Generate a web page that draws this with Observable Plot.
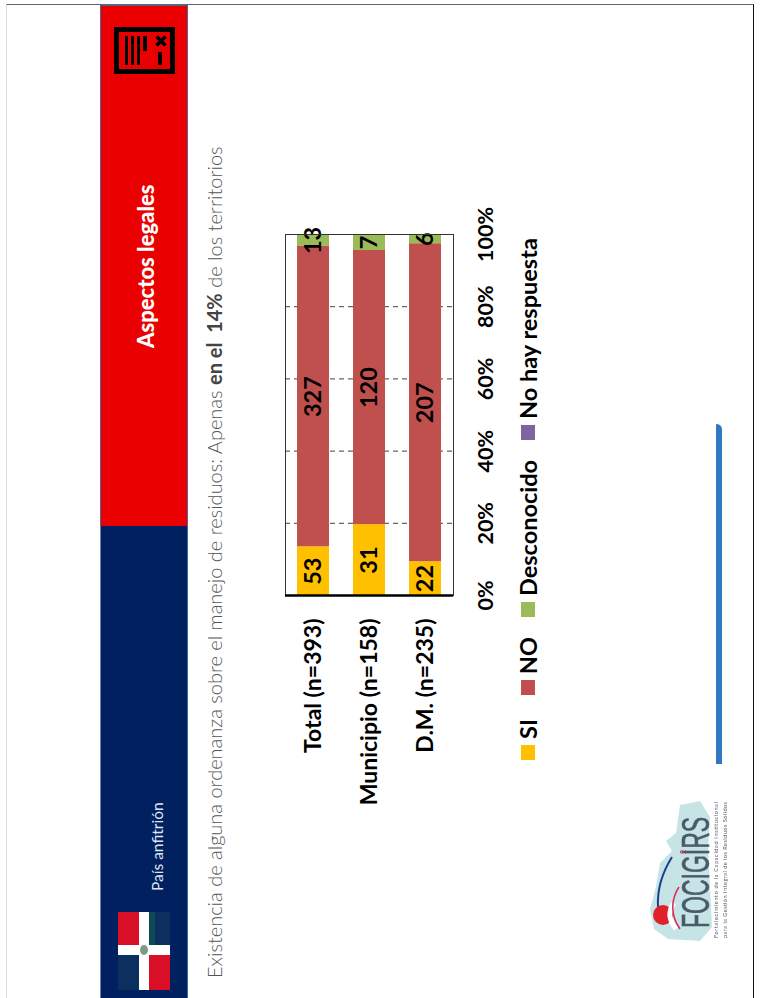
<!DOCTYPE html>
<html lang="es">
<head>
<meta charset="utf-8">
<script src="https://cdn.jsdelivr.net/npm/d3@7"></script>
<script src="https://cdn.jsdelivr.net/npm/@observablehq/plot@0.6"></script>
<style>
  html, body { margin: 0; padding: 0; background: #fff; }
  #slide { position: relative; width: 761px; height: 998px; overflow: hidden; font-family: Lato, sans-serif; }
  #slide > * { position: absolute; }
  .rot { transform-origin: 0 0; transform: rotate(-90deg); white-space: nowrap; }
  .legend-item { font: 700 23.5px Lato, sans-serif; color: #000; }
</style>
</head>
<body>
<div id="slide">
  <div style="left:6px;top:4px;width:748px;height:994px;box-sizing:border-box;border-top:1.5px solid #666;border-left:1px solid #ddd;border-right:1.5px solid #111"></div>
  <div style="left:100px;top:5px;width:88px;height:521px;box-sizing:border-box;background:#ea0000;border:1px solid #41689c;border-bottom:0"></div>
  <div style="left:100px;top:526px;width:88px;height:472px;box-sizing:border-box;background:#002060;border-left:1px solid #6b84b4;border-right:1px solid #41689c"></div>

  <svg style="left:114px;top:27px" width="61" height="47" viewBox="0 0 61 47">
    <rect x="2.5" y="2.5" width="56" height="42" fill="none" stroke="#000" stroke-width="5"/>
    <path d="M11 9h3v29h-3zM17 9h3v29h-3zM23 9h3v29h-3zM29 9h4v15h-4zM44 25h4v13h-4z" fill="#000"/>
    <path d="M42.500 9.500l9 9M51.500 9.500l-9 9" stroke="#000" stroke-width="3.500" fill="none"/>
  </svg>

  <div class="rot" style="left:132px;top:348px;font:900 22px Lato,sans-serif;color:#fff">Aspectos legales</div>
  <div class="rot" style="left:148px;top:891px;font:400 15.500px Lato,sans-serif;color:#dfe6f2">País anfitrión</div>

  <svg style="left:118px;top:912px;filter:blur(.6px)" width="52" height="78" viewBox="0 0 52 78">
    <rect width="52" height="78" fill="#fff"/>
    <rect width="21" height="33" fill="#d90f27"/>
    <rect x="31" width="21" height="33" fill="#0b2f5e"/>
    <rect x="31" width="6" height="33" fill="#0f4a50"/>
    <rect y="43" width="21" height="35" fill="#0b2f5e"/>
    <rect x="31" y="43" width="21" height="35" fill="#d90f27"/>
    <ellipse cx="26" cy="38" rx="4" ry="5" fill="#7d9c86"/>
  </svg>

  <div class="rot" style="left:202px;top:978px;font:300 20px Lato,sans-serif;color:#555">Existencia de alguna ordenanza sobre el manejo de residuos: Apenas <b style="font-weight:700;color:#444">en el&nbsp; 14%</b> de los territorios</div>

  <div id="chart" style="left:0;top:0"></div>
  <div id="legend" class="rot" style="left:514px;top:760px;display:flex;align-items:center"></div>

  <div style="left:716px;top:424px;width:6px;height:340px;background:#2e78c4;border-top-left-radius:1px;border-top-right-radius:6px"></div>

  <svg style="left:640px;top:757px;filter:blur(.6px)" width="100" height="196" viewBox="-10 -40 100 196">
    <path d="M50 4L30 8 26 36 16 44 22 54 10 66 6 90 0 112 4 132 18 142 50 144 62 130 60 90 58 50 60 20Z" fill="#c6e4e6"/>
    <path d="M22 60C12 76 7 92 8 110" fill="none" stroke="#1d3f8f" stroke-width="2"/>
    <circle cx="13" cy="118" r="10" fill="#e0202a"/>
    <path d="M24 106C18 114 18 122 26 132" fill="none" stroke="#fff" stroke-width="5"/>
    <path d="M29 90C21 102 20 118 30 132" fill="none" stroke="#d8285a" stroke-width="1.500"/>
    <text id="logotype" transform="translate(59,131) rotate(-90) scale(.605,1)" font-family="'Liberation Sans',sans-serif" font-size="38" fill="#4a5a68" stroke="#4a5a68" stroke-width=".6">FOCIGIRS</text>
    <text transform="translate(36,57) rotate(-90)" font-family="Lato,sans-serif" font-size="7" font-weight="700" fill="#d8285a">2</text>
    <text transform="translate(68,141) rotate(-90)" font-family="Lato,sans-serif" font-size="5.500" fill="#556" textLength="136">Fortalecimiento de la Capacidad Institucional</text>
    <text transform="translate(77,141) rotate(-90)" font-family="Lato,sans-serif" font-size="5.500" fill="#556" textLength="136">para la Gestión Integral de los Residuos Sólidos</text>
  </svg>
</div>
<script>
// Territorial groups and answers to the ordinance question
const territories = ["Total (n=393)", "Municipio (n=158)", "D.M. (n=235)"];
const answers = ["SI", "NO", "Desconocido", "No hay respuesta"];
const answerColors = ["#ffc000", "#c0504d", "#9bbb59", "#8064a2"];

// Counts per answer, in the order of the territories
const siCounts = [53, 31, 22];
const noCounts = [327, 120, 207];
const unknownCounts = [13, 7, 6];
const noAnswerCounts = [0, 0, 0];

const yTicks = [0, 0.2, 0.4, 0.6, 0.8, 1];
const gridTicks = [0.2, 0.4, 0.6, 0.8];

const rows = [siCounts, noCounts, unknownCounts, noAnswerCounts].flatMap((counts, a) =>
  counts.map((count, t) => ({territory: territories[t], answer: answers[a], count}))
);

const boldText = {fontFamily: "Lato, sans-serif", fontWeight: 700, fill: "#000"};

const chart = Plot.plot({
  width: 761,
  height: 998,
  marginLeft: 285,
  marginRight: 308,
  marginTop: 234,
  marginBottom: 403,
  style: {background: "transparent", overflow: "visible"},
  x: {domain: territories, paddingInner: 0.43, paddingOuter: 0.21},
  y: {domain: [0, 1]},
  color: {domain: answers, range: answerColors},
  marks: [
    Plot.ruleY(gridTicks, {stroke: "#000", strokeWidth: 1, strokeDasharray: "5,4", strokeOpacity: 0.75}),
    Plot.barY(rows, Plot.stackY({
      x: "territory", y: "count", fill: "answer", order: answers, offset: "normalize"
    })),
    Plot.text(rows, Plot.stackY({
      x: "territory", y: "count", z: "answer", order: answers, offset: "normalize",
      text: d => d.count > 0 ? String(d.count) : "", rotate: -90, fontSize: 23.5, ...boldText
    })),
    Plot.frame({stroke: "#333", strokeWidth: 1}),
    Plot.ruleY([0], {stroke: "#000", strokeWidth: 2.5}),
    Plot.axisX({
      anchor: "bottom", label: null, tickSize: 0, tickPadding: 23, tickRotate: -90, fontSize: 23, ...boldText
    }),
    Plot.axisY({
      anchor: "right", label: null, ticks: yTicks, tickSize: 0, tickPadding: 39, tickRotate: -90,
      tickFormat: d3.format(".0%"), textAnchor: "middle", fontSize: 21.5, ...boldText
    })
  ]
});
document.getElementById("chart").append(chart);

// Answer legend, written along the rotated reading direction
const legend = document.getElementById("legend");
const gaps = [24, 20, 20, 0];
answers.forEach((name, i) => {
  const item = document.createElement("div");
  item.className = "legend-item";
  item.style.cssText = `display:flex;align-items:center;margin-right:${gaps[i]}px`;
  const swatch = document.createElement("span");
  swatch.style.cssText = `display:inline-block;width:15px;height:14px;margin-right:6px;background:${answerColors[i]}`;
  item.append(swatch, name);
  legend.append(item);
});
</script>
</body>
</html>
